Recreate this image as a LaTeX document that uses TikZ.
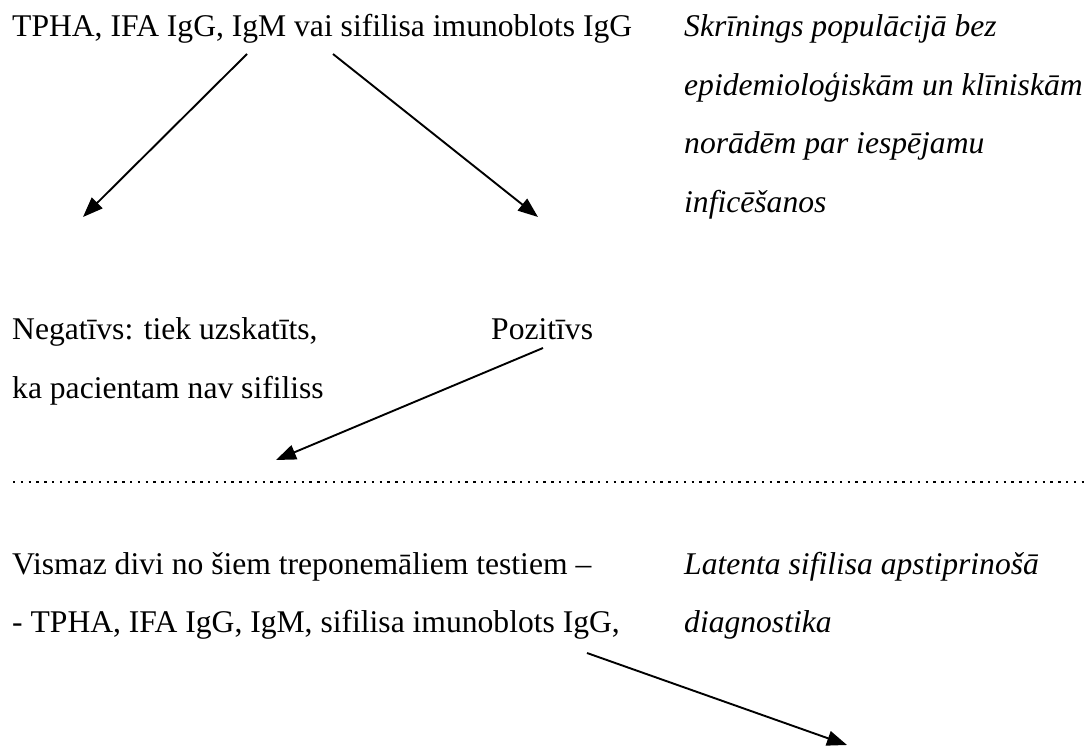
\documentclass[tikz,border=0pt]{standalone}
\usepackage{fontspec}
\setmainfont{Liberation Serif}
\usetikzlibrary{arrows.meta}
\usetikzlibrary{positioning}
\tikzstyle{bulta} = [-{Triangle[length=20pt,width=15pt]},line width=1.9pt]
\tikzstyle{punkti} = [line width=2.3pt,dash pattern=on 2.3pt off 5.5pt]
\tikzstyle{teksts} = [anchor=base west,inner sep=0pt,font=\fontsize{31.6}{38}\selectfont]
\tikzstyle{piezime} = [anchor=base west,inner sep=0pt,font=\fontsize{31.6}{38}\selectfont\itshape]

\begin{document}
\begin{tikzpicture}[x=1pt,y=-1pt]
	\useasboundingbox (0,0) rectangle (1088,746);

	% skrinings
	\node[teksts] (tpha) at (12,37) {TPHA, IFA IgG, IgM vai sifilisa imunoblots IgG};
	\node[piezime] (skr1) at (684,37) {Skrīnings populācijā bez};
	\node[piezime] (skr2) at (684,95.5) {epidemioloģiskām un klīniskām};
	\node[piezime] (skr3) at (684,154) {norādēm par iespējamu};
	\node[piezime] (skr4) at (684,212.5) {inficēšanos};

	\node[teksts] (neg1) at (12,340) {Negatīvs: tiek uzskatīts,};
	\node[teksts] (neg2) at (12,398) {ka pacientam nav sifiliss};
	\node[teksts] (poz) at (491,340) {Pozitīvs};

	\coordinate (tpha1) at (247,54);
	\coordinate (tpha2) at (333,54);
	\coordinate (neg) at (83,217);
	\coordinate (pozb) at (538,217);
	\draw[bulta] (tpha1) -- (neg);
	\draw[bulta] (tpha2) -- (pozb);

	\coordinate (poz1) at (543,348);
	\coordinate (apst) at (276,460);
	\draw[bulta] (poz1) -- (apst);

	\draw[punkti] (13,482) -- (1088,482);

	% apstiprinosa diagnostika
	\node[teksts] (vis1) at (12,574) {Vismaz divi no šiem treponemāliem testiem –};
	\node[teksts] (vis2) at (12,632) {- TPHA, IFA IgG, IgM, sifilisa imunoblots IgG,};
	\node[piezime] (lat1) at (684,574) {Latenta sifilisa apstiprinošā};
	\node[piezime] (lat2) at (684,632) {diagnostika};

	\coordinate (vis3) at (587,653);
	\coordinate (beigas) at (847,745);
	\draw[bulta] (vis3) -- (beigas);

\end{tikzpicture}
\end{document}
